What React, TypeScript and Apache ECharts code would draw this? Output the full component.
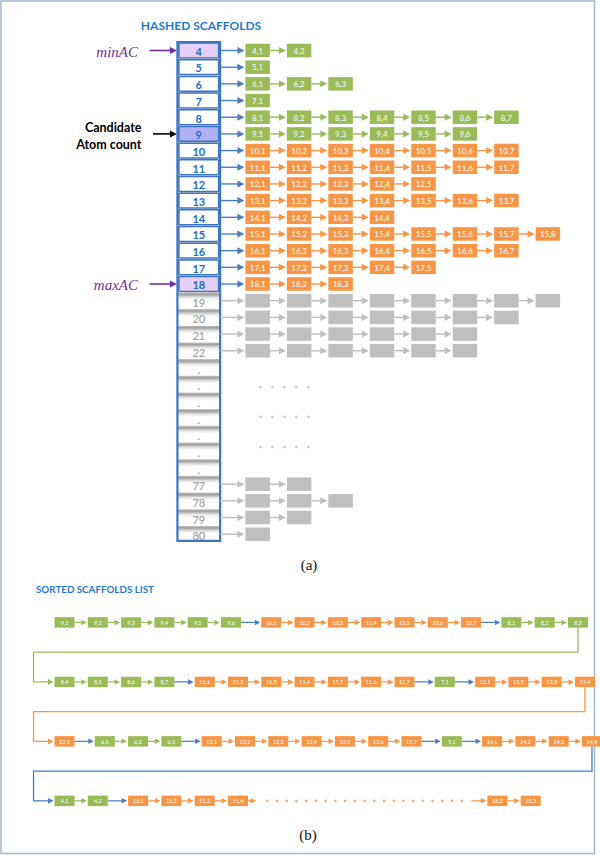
import React, { useEffect, useRef } from "react";
import * as echarts from "echarts";

// ---------------- data ----------------
const hashLabels = ["4", "5", "6", "7", "8", "9", "10", "11", "12", "13", "14", "15", "16", "17", "18", "19", "20", "21", "22", ".", ".", ".", ".", ".", ".", ".", "77", "78", "79", "80"];
const chainLengths = [2, 1, 3, 1, 7, 6, 7, 7, 5, 7, 4, 8, 7, 5, 3, 8, 7, 6, 6, 0, 0, 0, 0, 0, 0, 0, 2, 3, 2, 1];
const MIN_AC = 4;
const MAX_AC = 18;
const CANDIDATE_AC = 9;
const ELLIPSIS = "…";
const sortedLines = [
  ["9,1", "9,2", "9,3", "9,4", "9,5", "9,6", "10,1", "10,2", "10,3", "10,4", "10,5", "10,6", "10,7", "8,1", "8,2", "8,3"],
  ["8,4", "8,5", "8,6", "8,7", "11,1", "11,2", "11,3", "11,4", "11,5", "11,6", "11,7", "7,1", "12,1", "12,2", "12,3", "12,4"],
  ["12,5", "6,1", "6,2", "6,3", "13,1", "13,2", "13,3", "13,4", "13,5", "13,6", "13,7", "5,1", "14,1", "14,2", "14,3", "14,4"],
  ["4,1", "4,2", "15,1", "15,2", "15,3", "15,4", ELLIPSIS, "18,2", "18,3"],
];
const annotations = [
  { ac: MIN_AC, text: "minAC" },
  { ac: CANDIDATE_AC, text: "Candidate\nAtom count" },
  { ac: MAX_AC, text: "maxAC" },
];

// ---------------- style / layout ----------------
const GREEN = "#9BBB59";
const ORANGE = "#F79646";
const GREY = "#BFBFBF";
const BLUE = "#4A7EBF";
const COL_BLUE = "#3E75C2";
const TITLE_BLUE = "#1F78D0";
const TEXT_BLUE = "#1F6DC6";
const PURPLE = "#7030A0";
const SANS = "Lato";

// grid A (hashed scaffolds): px = 216.2 + 41.46*c ; py = 50.5 + 16.68*k
const XA_MIN = -216.2 / 41.46;
const XA_MAX = (600 - 216.2) / 41.46;
const YA_MIN = -50.5 / 16.68;
const YA_MAX = (570 - 50.5) / 16.68;
// grid B (sorted list): px = 64.5 + 33.3*s ; py = 622.4 + 59.48*L
const XB_MIN = -64.5 / 33.3;
const XB_MAX = (600 - 64.5) / 33.3;
const YB_MIN = (570 - 622.4) / 59.48;
const YB_MAX = (855 - 622.4) / 59.48;

const HASH_C = -0.42;
const HASH_HALF = 0.515;
const A_BOX_W = 24.5;
const A_BOX_H = 13.5;
const B_BOX_W = 20;
const B_BOX_H = 10.5;
const B_GAP = 0.21;
const ELLIPSIS_SPAN = 7.79;
const CONNECTOR_S = -0.93;

function groupColor(ac: number) {
  if (isNaN(ac)) return GREY;
  return ac <= CANDIDATE_AC ? GREEN : ac <= MAX_AC ? ORANGE : GREY;
}

function arrow(x1: number, y: number, x2: number, color: string, lw: number, hl: number, hw: number) {
  return [
    { type: "line", shape: { x1, y1: y, x2: x2 - hl + 0.8, y2: y }, style: { stroke: color, lineWidth: lw } },
    { type: "polygon", shape: { points: [[x2, y], [x2 - hl, y - hw / 2], [x2 - hl, y + hw / 2]] }, style: { fill: color } },
  ];
}

// ---- derived items, part (a)
type BoxA = { c: number; k: number; label: string; color: string; arrowColor: string };
const boxesA: BoxA[] = [];
hashLabels.forEach((lab, k) => {
  const ac = Number(lab);
  const col = groupColor(ac);
  for (let j = 1; j <= chainLengths[k]; j++) {
    boxesA.push({
      c: j,
      k,
      label: col === GREY ? "" : `${ac},${j}`,
      color: col,
      arrowColor: j === 1 && col !== GREY ? BLUE : col,
    });
  }
});
const dotRowsA = [20.17, 21.97, 23.77];
const dotsA: number[][] = [];
dotRowsA.forEach((k) => {
  for (let i = 0; i < 5; i++) dotsA.push([1.068 + 0.289 * i, k]);
});

// ---- derived items, part (b)
type BoxB = { s: number; L: number; label: string; color: string; arrowFrom: number | null; arrowColor: string };
const boxesB: BoxB[] = [];
const ellipsesB: { s: number; L: number; color: string; nextS: number }[] = [];
const lineEnds: { first: number; last: number; firstAc: number; lastAc: number }[] = [];
sortedLines.forEach((line, L) => {
  let prevAc = NaN;
  let prevPos = 0;
  let afterEllipsis = false;
  let first = 0, last = 0, firstAc = 0, lastAc = 0;
  line.forEach((lab, i) => {
    if (lab === ELLIPSIS) {
      ellipsesB.push({ s: prevPos, L, color: groupColor(prevAc), nextS: prevPos + ELLIPSIS_SPAN });
      prevPos = prevPos + ELLIPSIS_SPAN;
      afterEllipsis = true;
      return;
    }
    const ac = Number(lab.split(",")[0]);
    let pos = 0;
    if (i === 0) pos = 0;
    else if (afterEllipsis) pos = prevPos;
    else pos = prevPos + 1 + (ac !== prevAc ? B_GAP : 0);
    boxesB.push({
      s: pos,
      L,
      label: lab,
      color: groupColor(ac),
      arrowFrom: i === 0 || afterEllipsis ? null : prevPos,
      arrowColor: ac === prevAc ? groupColor(ac) : BLUE,
    });
    if (i === 0) {
      first = pos;
      firstAc = ac;
    }
    last = pos;
    lastAc = ac;
    prevAc = ac;
    prevPos = pos;
    afterEllipsis = false;
  });
  lineEnds.push({ first, last, firstAc, lastAc });
});
const connectorsB = lineEnds.slice(0, -1).map((e, L) => ({
  L,
  fromS: e.last,
  toS: lineEnds[L + 1].first,
  color: e.lastAc === lineEnds[L + 1].firstAc ? groupColor(e.lastAc) : BLUE,
}));
const dotsB: number[][] = [];
ellipsesB.forEach((e) => {
  for (let i = 0; i < 21; i++) dotsB.push([e.s + 0.88 + (5.84 * i) / 20, e.L]);
});

function buildOption(): any {
  const shade = new echarts.graphic.LinearGradient(0, 0, 0, 1, [
    { offset: 0, color: "#C6C6C6" },
    { offset: 0.12, color: "#9E9E9E" },
    { offset: 0.3, color: "#E2E2E2" },
    { offset: 0.45, color: "#FFFFFF" },
    { offset: 1, color: "#FFFFFF" },
  ]);

  const common = { type: "custom", coordinateSystem: "cartesian2d", silent: true, animation: false, clip: false };

  return {
    animation: false,
    grid: [
      { left: 0, top: 0, width: 600, height: 570, show: false },
      { left: 0, top: 570, width: 600, height: 285, show: false },
    ],
    xAxis: [
      { type: "value", gridIndex: 0, min: XA_MIN, max: XA_MAX, show: false },
      { type: "value", gridIndex: 1, min: XB_MIN, max: XB_MAX, show: false },
    ],
    yAxis: [
      { type: "value", gridIndex: 0, min: YA_MIN, max: YA_MAX, inverse: true, show: false },
      { type: "value", gridIndex: 1, min: YB_MIN, max: YB_MAX, inverse: true, show: false },
    ],
    graphic: [
      { type: "rect", z: -10, shape: { x: 1, y: 1, width: 593.5, height: 852.5 }, style: { fill: "#FFFFFF", stroke: "#A5B6CF", lineWidth: 1.5 } },
      { type: "text", x: 201, y: 25.5, style: { text: "HASHED SCAFFOLDS", fill: TITLE_BLUE, font: `bold 12px ${SANS}`, align: "center", verticalAlign: "middle" } },
      { type: "text", x: 309, y: 565, style: { text: "(a)", fill: "#111", font: "15px 'Liberation Serif'", align: "center", verticalAlign: "middle" } },
      { type: "text", x: 36, y: 589, style: { text: "SORTED SCAFFOLDS LIST", fill: TITLE_BLUE, font: `bold 9.8px ${SANS}`, align: "left", verticalAlign: "middle" } },
      { type: "text", x: 308, y: 835, style: { text: "(b)", fill: "#111", font: "15px 'Liberation Serif'", align: "center", verticalAlign: "middle" } },
    ],
    series: [
      // hash column cells
      {
        ...common,
        xAxisIndex: 0,
        yAxisIndex: 0,
        data: hashLabels.map((_, k) => [HASH_C, k]),
        renderItem: (params: any, api: any) => {
          const k = params.dataIndex;
          const lab = hashLabels[k];
          const ac = Number(lab);
          const [x, y] = api.coord([HASH_C, k]);
          const xl = api.coord([HASH_C - HASH_HALF, k])[0];
          const xr = api.coord([HASH_C + HASH_HALF, k])[0];
          const top = api.coord([HASH_C, k - 0.5])[1];
          const bot = api.coord([HASH_C, k + 0.5])[1];
          const colored = !isNaN(ac) && ac <= MAX_AC;
          const children: any[] = [
            { type: "rect", shape: { x: xl, y: top, width: xr - xl, height: bot - top }, style: { fill: shade } },
          ];
          if (colored) {
            const fill = ac === MIN_AC || ac === MAX_AC ? "#E6CFF8" : ac === CANDIDATE_AC ? "#B0B0F4" : "#FFFFFF";
            children.push({
              type: "rect",
              shape: { x: xl + 1.5, y: top + 0.9, width: xr - xl - 3, height: bot - top - 1.8, r: 1 },
              style: { fill, stroke: COL_BLUE, lineWidth: 1.5 },
            });
            children.push({
              type: "text",
              x,
              y: y + 0.8,
              style: { text: lab, fill: TEXT_BLUE, font: `bold 11px ${SANS}`, align: "center", verticalAlign: "middle" },
            });
          } else {
            children.push({
              type: "text",
              x,
              y: y + 1.6,
              style: { text: lab, fill: "#A3A3A3", font: `600 11px ${SANS}`, align: "center", verticalAlign: "middle" },
            });
          }
          return { type: "group", children };
        },
      },
      // hash column outline
      {
        ...common,
        xAxisIndex: 0,
        yAxisIndex: 0,
        data: [[HASH_C, 0]],
        renderItem: (_p: any, api: any) => {
          const xl = api.coord([HASH_C - HASH_HALF, 0])[0];
          const xr = api.coord([HASH_C + HASH_HALF, 0])[0];
          const top = api.coord([HASH_C, -0.5])[1];
          const bot = api.coord([HASH_C, hashLabels.length - 0.6])[1];
          return {
            type: "rect",
            shape: { x: xl, y: top, width: xr - xl, height: bot - top },
            style: { fill: "none", stroke: COL_BLUE, lineWidth: 2.2 },
          };
        },
      },
      // annotations
      {
        ...common,
        xAxisIndex: 0,
        yAxisIndex: 0,
        data: annotations.map((a) => [HASH_C, hashLabels.indexOf(String(a.ac))]),
        renderItem: (params: any, api: any) => {
          const a = annotations[params.dataIndex];
          const k = hashLabels.indexOf(String(a.ac));
          const isCand = a.ac === CANDIDATE_AC;
          const color = isCand ? "#000000" : PURPLE;
          const [, y] = api.coord([HASH_C, k]);
          const tx = api.coord([isCand ? -1.802 : -1.886, k])[0];
          const ax = api.coord([isCand ? -1.524 : -1.609, k])[0];
          const tip = api.coord([HASH_C - HASH_HALF, k])[0] - 0.5;
          return {
            type: "group",
            children: [
              ...arrow(ax, y, tip, color, 1.6, 7, 7),
              {
                type: "text",
                x: tx,
                y: y + (isCand ? 2 : 1),
                style: {
                  text: a.text,
                  fill: color,
                  font: isCand ? `bold 12.5px ${SANS}` : "italic 15px 'Liberation Serif'",
                  lineHeight: 16.6,
                  align: "right",
                  verticalAlign: "middle",
                },
              },
            ],
          };
        },
      },
      // chain boxes (a)
      {
        ...common,
        xAxisIndex: 0,
        yAxisIndex: 0,
        data: boxesA.map((b) => [b.c, b.k]),
        renderItem: (params: any, api: any) => {
          const b = boxesA[params.dataIndex];
          const [x, y] = api.coord([b.c, b.k]);
          const start = b.c === 1 ? api.coord([HASH_C + HASH_HALF, b.k])[0] : api.coord([b.c - 1, b.k])[0] + A_BOX_W / 2;
          const left = x - A_BOX_W / 2;
          return {
            type: "group",
            children: [
              ...arrow(start, y, left - 1, b.arrowColor, 1.4, 7, 7),
              { type: "rect", shape: { x: left, y: y - A_BOX_H / 2, width: A_BOX_W, height: A_BOX_H }, style: { fill: b.color } },
              {
                type: "text",
                x,
                y: y + 0.3,
                style: { text: b.label, fill: "#FFFFFF", font: `8px ${SANS}`, align: "center", verticalAlign: "middle" },
              },
            ],
          };
        },
      },
      // ellipsis dots (a)
      {
        type: "scatter",
        xAxisIndex: 0,
        yAxisIndex: 0,
        silent: true,
        symbol: "circle",
        symbolSize: 2.8,
        itemStyle: { color: GREY },
        data: dotsA,
      },
      // connectors (b)
      {
        ...common,
        xAxisIndex: 1,
        yAxisIndex: 1,
        data: connectorsB.map((c) => [c.fromS, c.L]),
        renderItem: (params: any, api: any) => {
          const c = connectorsB[params.dataIndex];
          const [x0, y0] = api.coord([c.fromS, c.L]);
          const [xl, ym] = api.coord([CONNECTOR_S, c.L + 0.5]);
          const [x1, y1] = api.coord([c.toS, c.L + 1]);
          const tip = x1 - B_BOX_W / 2 - 1;
          return {
            type: "group",
            children: [
              {
                type: "polyline",
                shape: { points: [[x0, y0 + B_BOX_H / 2], [x0, ym], [xl, ym], [xl, y1], [tip - 5, y1]] },
                style: { stroke: c.color, lineWidth: 1.3, fill: "none" },
              },
              { type: "polygon", shape: { points: [[tip, y1], [tip - 5.5, y1 - 2.8], [tip - 5.5, y1 + 2.8]] }, style: { fill: c.color } },
            ],
          };
        },
      },
      // ellipsis arrows (b)
      {
        ...common,
        xAxisIndex: 1,
        yAxisIndex: 1,
        data: ellipsesB.map((e) => [e.s, e.L]),
        renderItem: (params: any, api: any) => {
          const e = ellipsesB[params.dataIndex];
          const [x0, y] = api.coord([e.s, e.L]);
          const a1 = api.coord([e.s + 0.54, e.L])[0];
          const a2 = api.coord([e.s + 7.01, e.L])[0];
          const xn = api.coord([e.nextS, e.L])[0];
          return {
            type: "group",
            children: [
              ...arrow(x0 + B_BOX_W / 2, y, a1, e.color, 1.2, 5.5, 5.5),
              ...arrow(a2, y, xn - B_BOX_W / 2 - 1, e.color, 1.2, 5.5, 5.5),
            ],
          };
        },
      },
      // sorted boxes (b)
      {
        ...common,
        xAxisIndex: 1,
        yAxisIndex: 1,
        data: boxesB.map((b) => [b.s, b.L]),
        renderItem: (params: any, api: any) => {
          const b = boxesB[params.dataIndex];
          const [x, y] = api.coord([b.s, b.L]);
          const left = x - B_BOX_W / 2;
          const children: any[] = [];
          if (b.arrowFrom !== null) {
            const start = api.coord([b.arrowFrom, b.L])[0] + B_BOX_W / 2;
            children.push(...arrow(start, y, left - 1, b.arrowColor, 1.2, 5.5, 5.5));
          }
          children.push({ type: "rect", shape: { x: left, y: y - B_BOX_H / 2, width: B_BOX_W, height: B_BOX_H }, style: { fill: b.color } });
          children.push({
            type: "text",
            x,
            y: y + 0.2,
            style: { text: b.label, fill: "#FFFFFF", font: `5.5px ${SANS}`, align: "center", verticalAlign: "middle" },
          });
          return { type: "group", children };
        },
      },
      // ellipsis dots (b)
      {
        type: "scatter",
        xAxisIndex: 1,
        yAxisIndex: 1,
        silent: true,
        symbol: "circle",
        symbolSize: 2.6,
        itemStyle: { color: ORANGE },
        data: dotsB,
      },
    ],
  };
}

export default function App() {
  const ref = useRef<HTMLDivElement>(null);
  useEffect(() => {
    document.body.style.margin = "0";
    const chart = echarts.init(ref.current as HTMLDivElement, undefined, { renderer: "svg" });
    chart.setOption(buildOption());
    return () => chart.dispose();
  }, []);
  return <div ref={ref} style={{ width: 600, height: 855 }} />;
}
